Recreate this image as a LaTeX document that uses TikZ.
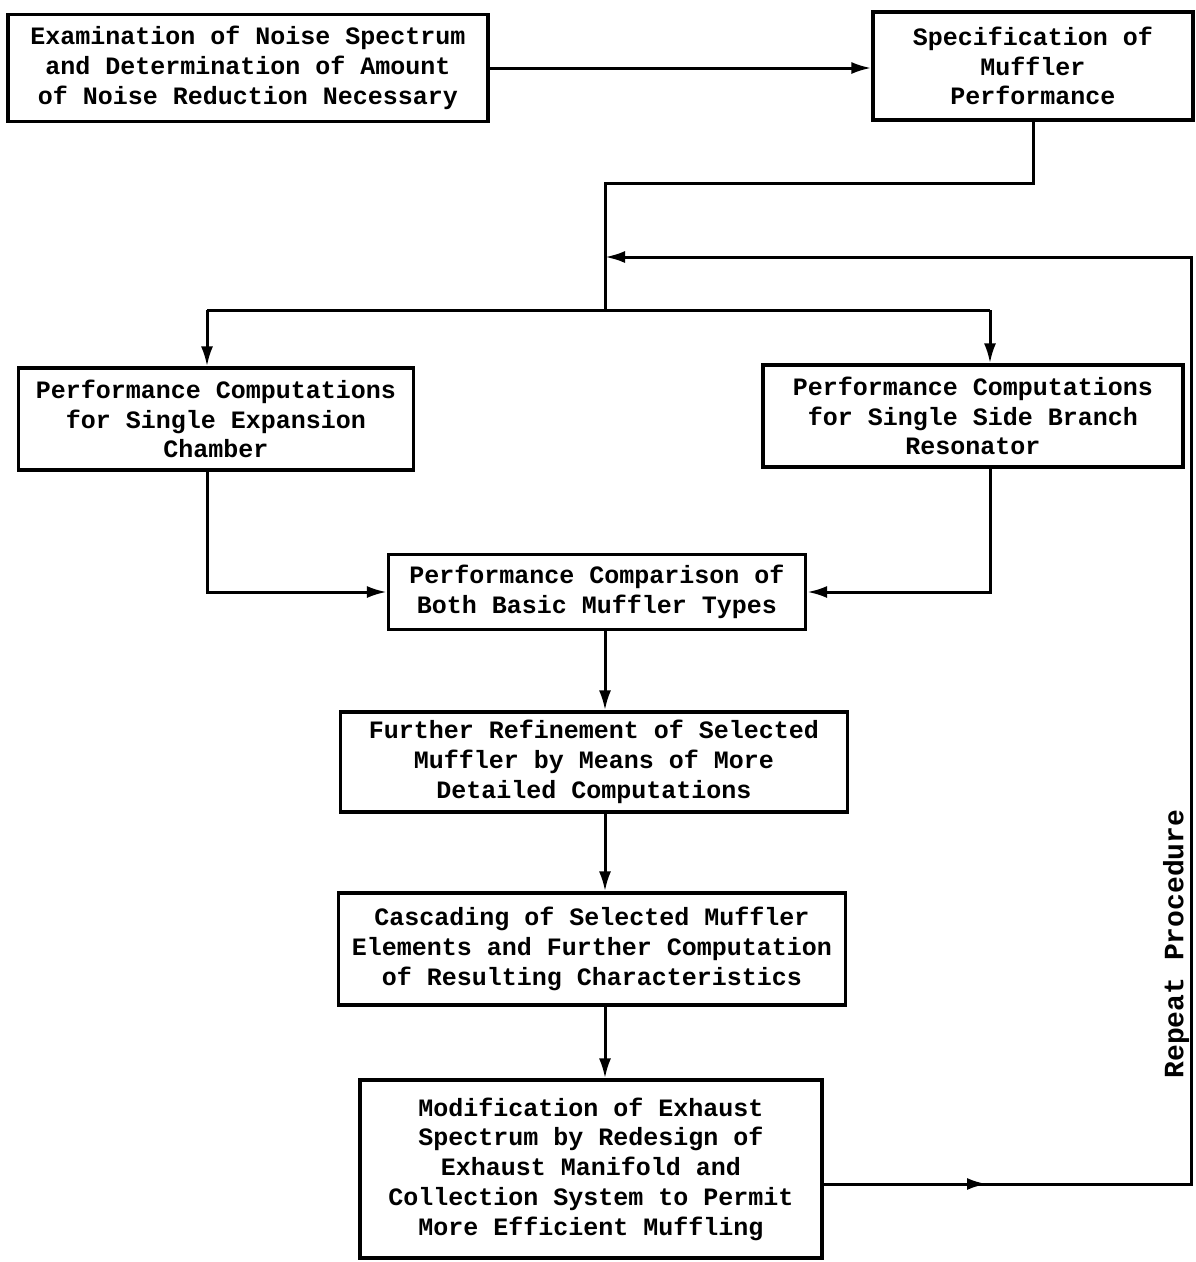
\documentclass[tikz,border=0pt]{standalone}
\usepackage{fontspec}
\setmonofont{Liberation Mono}
\usetikzlibrary{arrows.meta,decorations.markings}
\begin{document}
\begin{tikzpicture}[x=1pt,y=-1pt,
  box/.style={draw, line width=3.2pt, align=center, inner sep=0pt,
    font=\ttfamily\bfseries\fontsize{25}{29.8}\selectfont},
  conn/.style={line width=3pt},
  tip/.style={-{Latex[length=20pt,width=12pt]}},
  arr/.style={conn,tip}]
\useasboundingbox[fill=white] (0,0) rectangle (1196,1262);

\node[box, minimum width=480pt, minimum height=107pt] (b1) at (248,68)
  {Examination of Noise Spectrum\\and Determination of Amount\\of Noise Reduction Necessary};
\node[box, minimum width=320pt, minimum height=108pt] (b2) at (1033,66)
  {Specification of\\Muffler\\Performance};
\node[box, minimum width=395pt, minimum height=102pt] (b3) at (216,419)
  {Performance Computations\\for Single Expansion\\Chamber};
\node[box, minimum width=420pt, minimum height=102pt] (b4) at (973,416)
  {Performance Computations\\for Single Side Branch\\Resonator};
\node[box, minimum width=417pt, minimum height=75pt] (b5) at (597,592)
  {Performance Comparison of\\Both Basic Muffler Types};
\node[box, minimum width=507pt, minimum height=100pt] (b6) at (594,762)
  {Further Refinement of Selected\\Muffler by Means of More\\Detailed Computations};
\node[box, minimum width=507pt, minimum height=112pt] (b7) at (592,949)
  {Cascading of Selected Muffler\\Elements and Further Computation\\of Resulting Characteristics};
\node[box, minimum width=462pt, minimum height=178pt] (b8) at (591,1169)
  {Modification of Exhaust\\Spectrum by Redesign of\\Exhaust Manifold and\\Collection System to Permit\\More Efficient Muffling};

\coordinate (j1) at (605,310);
\coordinate (l3) at (207,310);
\coordinate (r4) at (990,310);
\coordinate (fb) at (605,257);
\coordinate (out8) at (822,1184);
\coordinate (rc) at (1191,1184);

% top chain
\draw[arr] (b1.east) -- (b1.east -| b2.west);
\draw[conn] (b2.south) -- ++(0,62) -| (j1);
\draw[conn] (l3) -- (r4);
\draw[arr] (l3) -- (l3 |- b3.north);
\draw[arr] (r4) -- (r4 |- b4.north);

% to comparison
\draw[arr] (l3 |- b3.south) |- (b5.west);
\draw[arr] (r4 |- b4.south) |- (b5.east);

% central column
\draw[arr] (b5.south -| j1) -- (b6.north -| j1);
\draw[arr] (b6.south -| j1) -- (b7.north -| j1);
\draw[arr] (b7.south -| j1) -- (b8.north -| j1);

% feedback loop
\draw[arr, postaction={decorate, decoration={markings,
    mark=at position 165pt with {\arrow{Latex[length=20pt,width=12pt]}}}}]
  (out8) -- (rc) |- (fb);
\node[rotate=90, font=\ttfamily\bfseries\fontsize{28}{32}\selectfont, inner sep=0pt]
  (rp) at (1176,944) {Repeat Procedure};
\end{tikzpicture}
\end{document}
